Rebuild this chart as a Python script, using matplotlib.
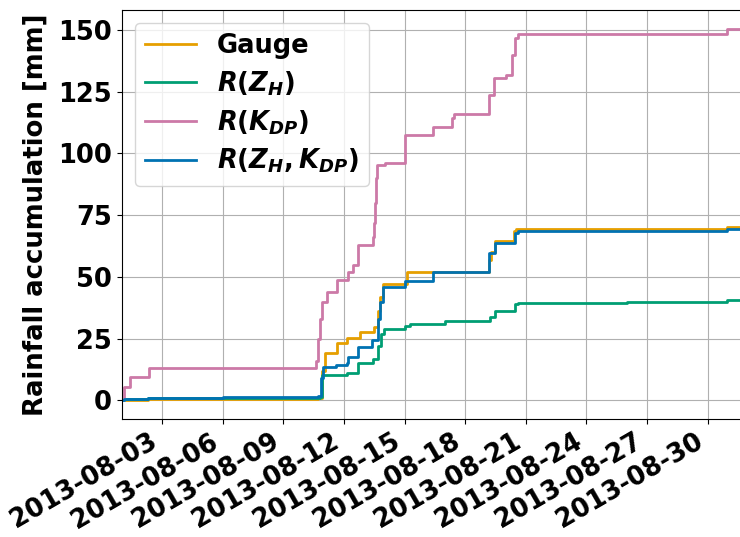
import numpy as np
import pandas as pd
import matplotlib
matplotlib.use('Agg')
import matplotlib.pyplot as plt
import matplotlib.dates as mdates

plt.rcParams['mathtext.fontset'] = 'custom'
plt.rcParams['mathtext.it'] = 'DejaVu Sans:bold:italic'
plt.rcParams['mathtext.rm'] = 'DejaVu Sans:bold'
plt.rcParams['mathtext.bf'] = 'DejaVu Sans:bold'

# accumulated rainfall, August 2013
gauge_t = ['2013-08-01 00:00', '2013-08-01 02:24', '2013-08-02 07:12', '2013-08-10 17:31',
           '2013-08-10 21:36', '2013-08-11 01:26', '2013-08-11 15:22', '2013-08-12 04:05',
           '2013-08-12 19:12', '2013-08-13 11:46', '2013-08-13 16:48', '2013-08-13 19:12',
           '2013-08-13 22:48', '2013-08-15 02:24', '2013-08-19 04:48', '2013-08-19 07:12',
           '2013-08-19 11:31', '2013-08-20 09:36', '2013-08-20 12:00', '2013-08-30 22:48',
           '2013-08-31 23:59']
gauge_v = [0.0, 0.3, 0.7, 0.9, 12.0, 19.0, 23.1, 25.1, 27.8, 29.8, 36.0, 42.0,
           47.3, 52.0, 57.0, 60.0, 64.5, 68.5, 69.4, 70.2, 70.2]

zh_t = ['2013-08-01 00:00', '2013-08-01 02:24', '2013-08-02 07:12', '2013-08-10 19:12',
        '2013-08-10 21:36', '2013-08-12 03:22', '2013-08-12 16:48', '2013-08-13 10:48',
        '2013-08-13 16:48', '2013-08-13 20:24', '2013-08-14 00:00', '2013-08-15 00:29',
        '2013-08-15 06:29', '2013-08-17 00:00', '2013-08-19 05:31', '2013-08-19 11:31',
        '2013-08-20 11:17', '2013-08-20 14:24', '2013-08-26 00:00', '2013-08-30 22:48',
        '2013-08-31 23:59']
zh_v = [0.0, 0.5, 0.9, 1.3, 10.2, 11.2, 15.0, 16.6, 22.0, 27.0, 29.1, 30.1,
        31.1, 32.2, 33.8, 36.2, 39.0, 39.5, 39.8, 40.6, 40.6]

kdp_t = ['2013-08-01 00:00', '2013-08-01 02:24', '2013-08-01 09:36', '2013-08-02 08:24',
         '2013-08-10 13:41', '2013-08-10 14:24', '2013-08-10 16:48', '2013-08-10 19:12',
         '2013-08-10 21:36', '2013-08-11 03:36', '2013-08-11 15:50', '2013-08-12 04:48',
         '2013-08-12 10:48', '2013-08-12 16:48', '2013-08-13 10:05', '2013-08-13 12:00',
         '2013-08-13 13:12', '2013-08-13 14:24', '2013-08-13 15:36', '2013-08-14 00:43',
         '2013-08-15 00:00', '2013-08-16 10:19', '2013-08-17 08:53', '2013-08-17 10:48',
         '2013-08-19 04:48', '2013-08-19 10:19', '2013-08-20 00:43', '2013-08-20 07:12',
         '2013-08-20 11:17', '2013-08-20 14:24', '2013-08-30 23:31', '2013-08-31 23:59']
kdp_v = [0.0, 5.5, 9.3, 13.3, 13.3, 16.0, 25.0, 33.0, 40.0, 43.7, 48.8, 52.0,
         54.7, 62.8, 66.2, 72.0, 80.0, 90.0, 95.2, 96.2, 107.3, 110.7, 114.5, 116.1,
         123.5, 130.7, 131.7, 140.0, 146.8, 148.2, 150.5, 150.5]

zhkdp_t = ['2013-08-01 00:00', '2013-08-01 02:24', '2013-08-02 07:12', '2013-08-06 00:00',
           '2013-08-10 17:31', '2013-08-10 20:24', '2013-08-10 23:31', '2013-08-11 14:24',
           '2013-08-12 03:22', '2013-08-12 04:48', '2013-08-12 16:48', '2013-08-13 09:07',
           '2013-08-13 16:48', '2013-08-13 19:12', '2013-08-13 22:48', '2013-08-15 00:29',
           '2013-08-16 10:19', '2013-08-19 04:48', '2013-08-19 11:31', '2013-08-20 11:17',
           '2013-08-20 14:24', '2013-08-30 22:48', '2013-08-31 23:59']
zhkdp_v = [0.0, 0.5, 1.0, 1.3, 1.6, 9.0, 13.6, 14.3, 15.2, 17.6, 21.7, 24.4,
           33.0, 40.0, 46.0, 48.3, 52.0, 59.5, 63.8, 67.8, 68.5, 69.3, 69.3]

fig = plt.figure(figsize=(7.4, 5.37), dpi=100)
ax = fig.add_axes([0.1645, 0.2197, 0.8462, 0.7617])

ax.plot(pd.to_datetime(gauge_t), gauge_v, color='#E69F00', lw=2, drawstyle='steps-post', label='Gauge')
ax.plot(pd.to_datetime(zh_t), zh_v, color='#009E73', lw=2, drawstyle='steps-post', label=r'$R(Z_H)$')
ax.plot(pd.to_datetime(kdp_t), kdp_v, color='#CC79A7', lw=2, drawstyle='steps-post', label=r'$R(K_{DP})$')
ax.plot(pd.to_datetime(zhkdp_t), zhkdp_v, color='#0072B2', lw=2, drawstyle='steps-post', label=r'$R(Z_H, K_{DP})$')

ax.set_xlim(pd.Timestamp('2013-08-01 00:00'), pd.Timestamp('2013-08-31 23:59'))
ax.set_yticks([0, 25, 50, 75, 100, 125, 150])
ax.xaxis.set_major_locator(mdates.DayLocator(bymonthday=[3, 6, 9, 12, 15, 18, 21, 24, 27, 30]))
ax.xaxis.set_major_formatter(mdates.DateFormatter('%Y-%m-%d'))
for lab in ax.get_xticklabels():
    lab.set_rotation(30)
    lab.set_ha('right')
    lab.set_fontweight('bold')
    lab.set_fontsize(18.5)
for lab in ax.get_yticklabels():
    lab.set_fontweight('bold')
    lab.set_fontsize(18.5)
ax.set_ylabel('Rainfall accumulation [mm]', fontsize=18.7, fontweight='bold', labelpad=7)
ax.grid(True)
ax.legend(loc='upper left', prop={'size': 18.5, 'weight': 'bold'}, labelspacing=0.4)

plt.savefig('out.png', dpi=100)
